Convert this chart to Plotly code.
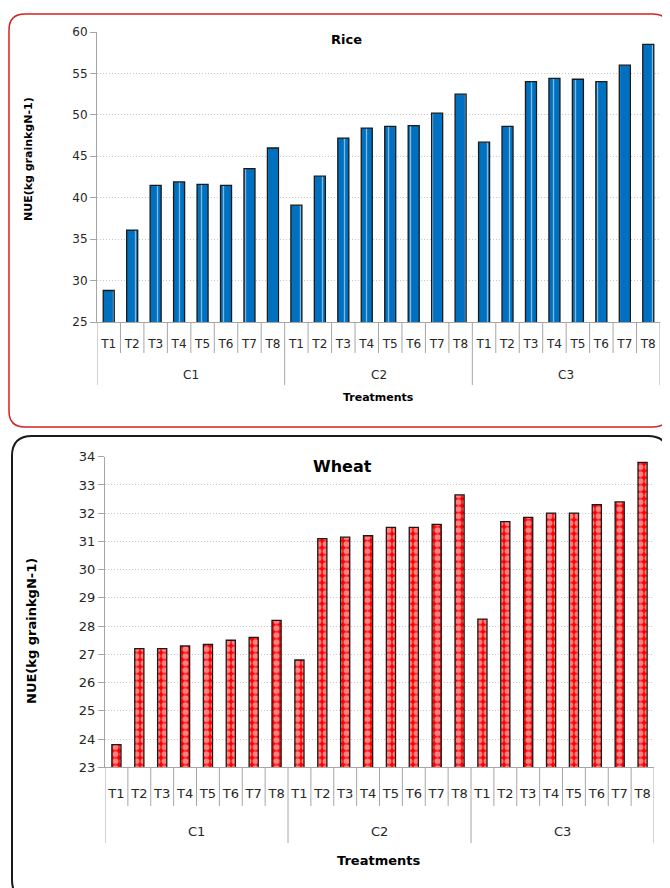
import plotly.graph_objects as go

# the page adds an 8px body margin, so the figure is drawn 8px smaller and all
# reference pixel positions are shifted by that offset
OFF = 8
W, H = 670 - OFF, 888 - OFF

groups = ["C1"] * 8 + ["C2"] * 8 + ["C3"] * 8
treatments = ["T1", "T2", "T3", "T4", "T5", "T6", "T7", "T8"] * 3
group_names = ["C1", "C2", "C3"]

rice_nue = [28.8, 36.1, 41.5, 41.9, 41.6, 41.5, 43.5, 46.0,
            39.1, 42.6, 47.2, 48.4, 48.6, 48.7, 50.2, 52.5,
            46.7, 48.6, 54.0, 54.4, 54.3, 54.0, 56.0, 58.5]

wheat_nue = [23.8, 27.2, 27.2, 27.3, 27.35, 27.5, 27.6, 28.2,
             26.8, 31.1, 31.15, 31.2, 31.5, 31.5, 31.6, 32.65,
             28.25, 31.7, 31.85, 32.0, 32.0, 32.3, 32.4, 33.8]

rice_ticks = [25, 30, 35, 40, 45, 50, 55, 60]
wheat_ticks = list(range(23, 35))

FONT = "DejaVu Sans"
AXC = "#a6a6a6"
TXT = "#262626"


def px(x):
    return (x - OFF) / W


def py(y):
    return 1 - (y - OFF) / H


def rounded_path(x0, y0, x1, y1, r):
    ax0, ax1 = px(x0), px(x1)
    ay0, ay1 = py(y0), py(y1)
    rx, ry = r / W, r / H
    return (f"M {ax0+rx},{ay0} L {ax1-rx},{ay0} Q {ax1},{ay0} {ax1},{ay0-ry} "
            f"L {ax1},{ay1+ry} Q {ax1},{ay1} {ax1-rx},{ay1} "
            f"L {ax0+rx},{ay1} Q {ax0},{ay1} {ax0},{ay1+ry} "
            f"L {ax0},{ay0-ry} Q {ax0},{ay0} {ax0+rx},{ay0} Z")


n = len(treatments)
xpos = list(range(n))  # category index positions

fig = go.Figure()

fig.add_trace(go.Bar(
    x=xpos, y=rice_nue, xaxis="x", yaxis="y",
    width=0.47,
    customdata=list(zip(groups, treatments)),
    marker=dict(color="#0070C0", line=dict(color="#1a1a1a", width=1.3),
                pattern=dict(shape="|", fgcolor="#ffffff", bgcolor="#0070C0",
                             size=11, solidity=0.12)),
    showlegend=False,
))

fig.add_trace(go.Bar(
    x=xpos, y=wheat_nue, xaxis="x2", yaxis="y2",
    width=0.4,
    customdata=list(zip(groups, treatments)),
    marker=dict(color="#FF0000", line=dict(color="#1a1a1a", width=1.3),
                pattern=dict(shape=".", fgcolor="#ffffff", bgcolor="#FF0000",
                             size=7, solidity=0.55)),
    showlegend=False,
))

common_x = dict(
    showline=True, linecolor=AXC, linewidth=1, range=[-0.5, n - 0.5],
    tickmode="array", tickvals=xpos, ticktext=treatments, ticks="",
    tickangle=0, showgrid=False, zeroline=False, automargin=False, fixedrange=True,
)
common_y = dict(
    showline=True, linecolor=AXC, linewidth=1,
    ticks="outside", ticklen=6, tickcolor=AXC,
    showgrid=True, gridcolor="#c8c8c8", griddash="1px,2px", gridwidth=1,
    zeroline=False, automargin=False,
)

fig.update_layout(
    width=W, height=H,
    margin=dict(l=0, r=0, t=0, b=0),
    paper_bgcolor="white", plot_bgcolor="white",
    xaxis=dict(domain=[px(97), px(660)], anchor="y", ticklabelstandoff=11,
               tickfont=dict(family=FONT, size=12, color=TXT), **common_x),
    yaxis=dict(domain=[py(322), py(32)], anchor="x", range=[25, 60],
               tickvals=rice_ticks,
               tickfont=dict(family=FONT, size=12, color=TXT), **common_y),
    xaxis2=dict(domain=[px(105), px(654)], anchor="y2", ticklabelstandoff=14,
                tickfont=dict(family=FONT, size=13, color=TXT), **common_x),
    yaxis2=dict(domain=[py(767.3), py(456.7)], anchor="x2", range=[23, 34],
                tickvals=wheat_ticks,
                tickfont=dict(family=FONT, size=13, color=TXT), **common_y),
)

shapes = [
    dict(type="path", xref="paper", yref="paper",
         path=rounded_path(9, 14, 669, 427, 16),
         line=dict(color="#D42020", width=1.5), layer="below"),
    dict(type="path", xref="paper", yref="paper",
         path=rounded_path(12, 436, 668, 900, 20),
         line=dict(color="#1a1a1a", width=2), layer="below"),
]

ann = []
# category dividers and group labels below each x axis
for xr, top, short_end, long_end, glab_y, gsize in [
        ("x", 322, 353, 385, 375, 12), ("x2", 767.3, 806, 843, 831.7, 13)]:
    for b in range(n + 1):
        is_group = b == 0 or b == n or groups[b] != groups[b - 1]
        shapes.append(dict(
            type="line", xref=xr, yref="paper", x0=b - 0.5, x1=b - 0.5,
            y0=py(top), y1=py(long_end if is_group else short_end),
            line=dict(color=AXC, width=1), layer="above"))
    for g in group_names:
        idx = [i for i, gg in enumerate(groups) if gg == g]
        ann.append(dict(text=g, xref=xr, yref="paper",
                        x=(idx[0] + idx[-1]) / 2, y=py(glab_y),
                        font=dict(size=gsize, color=TXT)))

ann += [
    dict(text="<b>Rice</b>", x=px(346), y=py(39), font=dict(size=13)),
    dict(text="<b>Wheat</b>", x=px(343), y=py(466), font=dict(size=16)),
    dict(text="<b>Treatments</b>", x=px(378), y=py(398), font=dict(size=11)),
    dict(text="<b>Treatments</b>", x=px(378), y=py(860), font=dict(size=13)),
    dict(text="<b>NUE(kg grainkgN-1)</b>", x=px(28), y=py(159), font=dict(size=11),
         textangle=-90),
    dict(text="<b>NUE(kg grainkgN-1)</b>", x=px(31), y=py(631), font=dict(size=13),
         textangle=-90),
]
for a in ann:
    a.setdefault("xref", "paper")
    a.setdefault("yref", "paper")
    a.update(showarrow=False, xanchor="center", yanchor="middle")
    a["font"].setdefault("color", "#000000")
    a["font"]["family"] = FONT
fig.update_layout(annotations=ann, shapes=shapes)

fig.write_html("out.html")
